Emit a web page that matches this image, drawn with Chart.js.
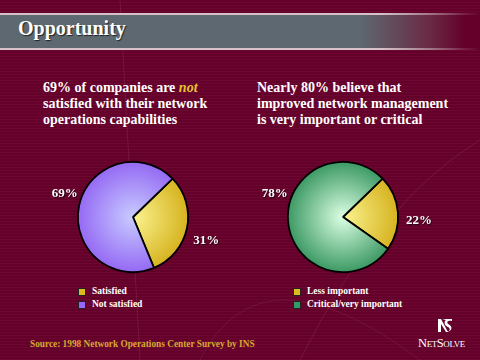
<!DOCTYPE html>
<html>
<head>
<meta charset="utf-8">
<script src="https://cdn.jsdelivr.net/npm/chart.js@4/dist/chart.umd.min.js"></script>
<style>
  html, body { margin: 0; padding: 0; }
  #slide {
    position: relative; width: 480px; height: 360px; overflow: hidden;
    background: repeating-linear-gradient(180deg, #64002a 0px, #64002a 2px, #6b0832 2px, #6b0832 3px);
    font-family: "Liberation Serif", "Times New Roman", serif; color: #fff;
  }
  #bgsvg { position: absolute; left: 0; top: 0; }
  #titlebar {
    position: absolute; left: 0; top: 13px; width: 480px; height: 33px;
    background: linear-gradient(90deg, #5d6870 0px, #5d6870 360px, #6a2a45 430px, #64002a 465px);
    border-top: 2px solid rgba(220,190,200,0.85); border-bottom: 2px solid rgba(220,190,200,0.85);
    border-image: linear-gradient(90deg, #d8c0c8 0, #d8c0c8 380px, rgba(216,192,200,0) 480px) 1;
  }
  #title { position: absolute; left: 18px; top: 17px; font-size: 20px; font-weight: bold; color: #fff;
    text-shadow: 1px 1px 1px #222; }
  .head { position: absolute; font-size: 14px; font-weight: bold; line-height: 16px; color: #fff; white-space: nowrap; }
  .head i { color: #e8c030; }
  .legend { position: absolute; font-size: 9.5px; font-weight: bold; line-height: 13px; white-space: nowrap; }
  .legend .row { position: relative; height: 13px; }
  .legend .sw { position: absolute; left: 0; top: 3px; width: 6px; height: 6px; border: 1px solid #222; }
  .legend .tx { position: absolute; left: 14px; top: 0; }
  #source { position: absolute; left: 30px; top: 339px; font-size: 9.3px; font-weight: bold; color: #d8a830; white-space: nowrap; }
  #brand { position: absolute; left: 418px; top: 336px; font-size: 12.5px; font-variant: small-caps; color: #fff; letter-spacing: -0.4px; white-space: nowrap; }
  canvas.pie { position: absolute; }
</style>
</head>
<body>
<div id="slide">
  <svg id="bgsvg" width="480" height="360">
    <path d="M 120 0 L 140 360" stroke="rgba(255,200,220,0.10)" stroke-width="1" fill="none"/>
    <path d="M 300 360 Q 380 200 480 140" stroke="rgba(255,200,220,0.10)" stroke-width="1" fill="none"/>
    <path d="M 420 360 Q 260 240 200 360" stroke="rgba(255,200,220,0.08)" stroke-width="1" fill="none"/>
  </svg>
  <div id="titlebar"></div>
  <div id="title">Opportunity</div>
  <div class="head" style="left:43px; top:80px;">69% of companies are <i>not</i><br>satisfied with their network<br>operations capabilities</div>
  <div class="head" style="left:257px; top:80px;">Nearly 80% believe that<br>improved network management<br>is very important or critical</div>
  <canvas id="pie1" class="pie" width="200" height="135" style="left:40px; top:150px; width:200px; height:135px;"></canvas>
  <canvas id="pie2" class="pie" width="210" height="135" style="left:250px; top:150px; width:210px; height:135px;"></canvas>
  <div id="legend1" class="legend" style="left:78px; top:285px;"></div>
  <div id="legend2" class="legend" style="left:293px; top:285px;"></div>
  <div id="source">Source: 1998 Network Operations Center Survey by INS</div>
  <svg style="position:absolute; left:437px; top:318px;" width="17" height="15" viewBox="0 0 17 15">
    <path d="M 1 1 L 1 14 L 4 14 L 4 6 L 9 14 L 11 14 L 4 1 Z" fill="#fff"/>
    <path d="M 5 1 L 15 1 L 15 3 C 10 2, 9 5, 12 6.5 C 16 8.5, 15 14, 9 14 L 12 13 C 14 11, 12 9.5, 10 8.5 C 7 7, 7 3, 9 2 Z" fill="#fff"/>
  </svg>
  <div id="brand">NetSolve</div>
</div>
<script>
// ---- data ----
const pie1Labels = ["Satisfied", "Not satisfied"];
const pie1Values = [31, 69];
const pie2Labels = ["Less important", "Critical/very important"];
const pie2Values = [22, 78];

// ---- styles ----
const pie1Colors = [["#faf490", "#d6b21e"], ["#c8ccff", "#9468f4"]];
const pie2Colors = [["#faf490", "#d6b21e"], ["#dcffe4", "#3a9862"]];
const legend1Colors = ["#dcbc1c", "#9966ff"];
const legend2Colors = ["#dcbc1c", "#339966"];

function radialFill(colors) {
  return function(ctx) {
    const pair = colors[ctx.dataIndex] || colors[0];
    const chart = ctx.chart;
    const area = chart.chartArea;
    if (!area) return pair[1];
    const cx = (area.left + area.right) / 2, cy = (area.top + area.bottom) / 2;
    const r = Math.min(area.right - area.left, area.bottom - area.top) / 2;
    const g = chart.ctx.createRadialGradient(cx, cy, 0, cx, cy, r);
    g.addColorStop(0, pair[0]);
    g.addColorStop(1, pair[1]);
    return g;
  };
}

const outsideLabels = {
  id: "outsideLabels",
  afterDatasetsDraw(chart, args, opts) {
    const ctx = chart.ctx;
    const meta = chart.getDatasetMeta(0);
    const values = chart.data.datasets[0].data;
    ctx.save();
    ctx.font = "bold 13px 'Liberation Serif', serif";
    ctx.fillStyle = "#fff";
    ctx.textAlign = "center";
    ctx.textBaseline = "middle";
    ctx.shadowColor = "rgba(0,0,0,0.6)";
    ctx.shadowOffsetX = 1; ctx.shadowOffsetY = 1; ctx.shadowBlur = 0;
    meta.data.forEach((arc, i) => {
      const a = opts.angles[i] * Math.PI / 180;
      const R = arc.outerRadius + opts.gaps[i];
      const x = arc.x + R * Math.sin(a);
      const y = arc.y - R * Math.cos(a);
      ctx.fillText(values[i] + "%", x, y);
    });
    ctx.restore();
  }
};

function makePie(id, labels, values, colors, pad, labelOpts) {
  return new Chart(document.getElementById(id), {
    type: "pie",
    data: {
      labels: labels,
      datasets: [{
        data: values,
        backgroundColor: radialFill(colors),
        borderColor: "#000",
        borderWidth: 1.8,
        hoverOffset: 0
      }]
    },
    options: {
      responsive: false,
      animation: false,
      rotation: 46,
      layout: { padding: pad },
      plugins: {
        legend: { display: false },
        tooltip: { enabled: false },
        outsideLabels: labelOpts
      }
    },
    plugins: [outsideLabels]
  });
}

makePie("pie1", pie1Labels, pie1Values, pie1Colors,
  { left: 37, right: 51, top: 11, bottom: 12 },
  { angles: [108, 289], gaps: [22, 17] });
makePie("pie2", pie2Labels, pie2Values, pie2Colors,
  { left: 37, right: 61, top: 11, bottom: 12 },
  { angles: [93, 289], gaps: [21, 17] });

function buildLegend(id, labels, colors) {
  const el = document.getElementById(id);
  labels.forEach((t, i) => {
    const row = document.createElement("div");
    row.className = "row";
    const sw = document.createElement("span");
    sw.className = "sw"; sw.style.background = colors[i];
    const tx = document.createElement("span");
    tx.className = "tx"; tx.textContent = t;
    row.appendChild(sw); row.appendChild(tx);
    el.appendChild(row);
  });
}
buildLegend("legend1", pie1Labels, legend1Colors);
buildLegend("legend2", pie2Labels, legend2Colors);
</script>
</body>
</html>
